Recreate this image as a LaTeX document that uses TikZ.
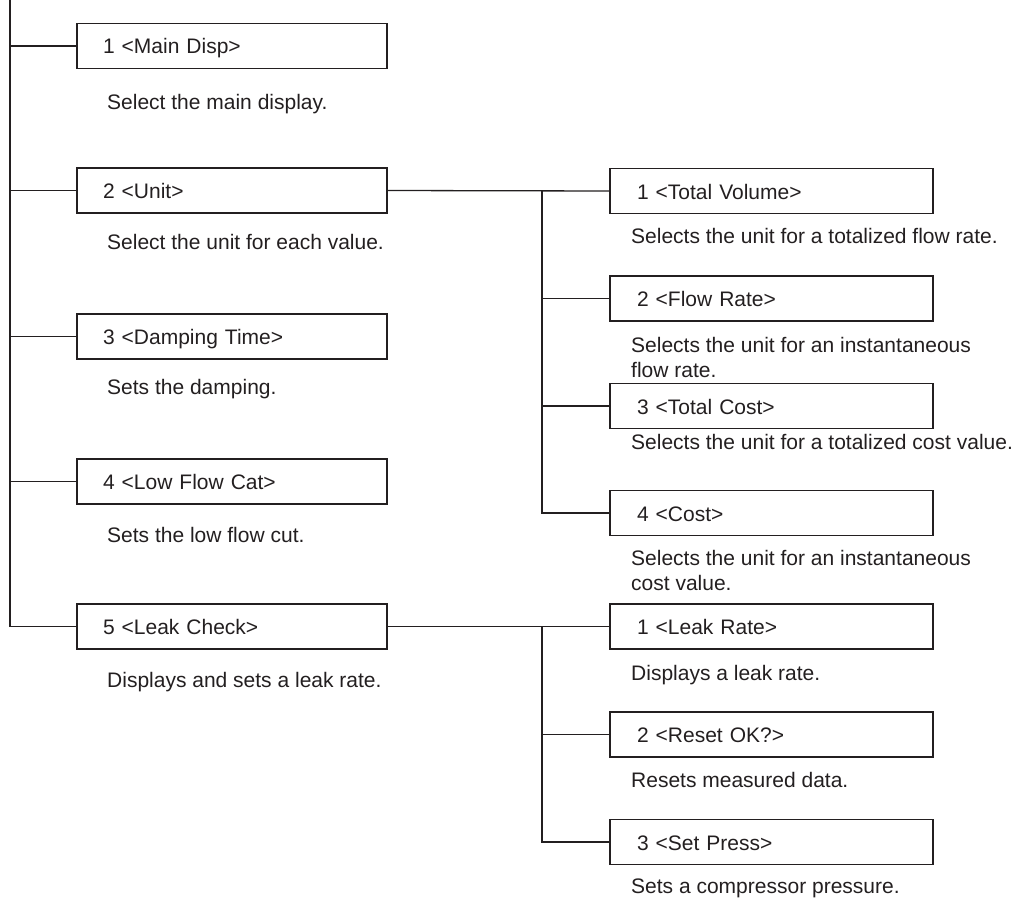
\documentclass[tikz,border=0pt]{standalone}
\usepackage{fontspec}
\setmainfont{Liberation Sans}
\definecolor{ink}{RGB}{35,31,32}
\newcommand\fsz{\fontsize{21}{25}\selectfont}
\tikzset{
  menubox/.style={draw=ink, line width=1.3pt, text=ink, font=\fsz, inner ysep=0pt,
    minimum height=45pt, align=left, text height=16pt, text depth=0pt},
  lbox/.style={menubox, text width=258pt, inner xsep=26pt},
  rbox/.style={menubox, text width=269pt, inner xsep=27pt},
  desc/.style={anchor=base west, inner sep=0pt, font=\fsz, text=ink, align=left},
  wire/.style={draw=ink, line width=1.3pt}
}
\begin{document}
\begin{tikzpicture}[x=1pt,y=-1pt]
\useasboundingbox (0,0) rectangle (1019,899);
% left column
\node[lbox] (b1) at (232,46) {1 <Main Disp>};
\node[lbox] (b2) at (232,190.5) {2 <Unit>};
\node[lbox] (b3) at (232,336.5) {3 <Damping Time>};
\node[lbox] (b4) at (232,481.5) {4 <Low Flow Cat>};
\node[lbox] (b5) at (232,626.5) {5 <Leak Check>};
\node[desc] (d1) at (107,109) {Select the main display.};
\node[desc] (d2) at (107,249) {Select the unit for each value.};
\node[desc] (d3) at (107,394) {Sets the damping.};
\node[desc] (d4) at (107,542) {Sets the low flow cut.};
\node[desc] (d5) at (107,687) {Displays and sets a leak rate.};
% right column: unit
\node[rbox] (s1) at (771.5,191) {1 <Total Volume>};
\node[rbox] (s2) at (771.5,298.5) {2 <Flow Rate>};
\node[rbox] (s3) at (771.5,406) {3 <Total Cost>};
\node[rbox] (s4) at (771.5,513) {4 <Cost>};
\node[desc] (e1) at (631,243) {Selects the unit for a totalized flow rate.};
\node[desc] (e2) at (631,377) {Selects the unit for an instantaneous\\flow rate.};
\node[desc] (e3) at (631,449) {Selects the unit for a totalized cost value.};
\node[desc] (e4) at (631,590) {Selects the unit for an instantaneous\\cost value.};
% right column: leak check
\node[rbox] (l1) at (771.5,626.5) {1 <Leak Rate>};
\node[rbox] (l2) at (771.5,734.5) {2 <Reset OK?>};
\node[rbox] (l3) at (771.5,842) {3 <Set Press>};
\node[desc] (f1) at (631,680) {Displays a leak rate.};
\node[desc] (f2) at (631,787) {Resets measured data.};
\node[desc] (f3) at (631,893) {Sets a compressor pressure.};
% connectors
\coordinate (top) at (10,0);
\coordinate (jx) at (542,0);
\draw[wire] (top) |- (b5.west);
\foreach \b in {b1,b2,b3,b4} \draw[wire] (\b.west) -- (\b.west -| top);
\draw[wire] (b2.east) -- (s1.west);
\draw[wire] (jx |- s1.west) |- (s4.west);
\foreach \b in {s2,s3} \draw[wire] (\b.west) -- (\b.west -| jx);
\draw[wire] (b5.east) -- (l1.west);
\draw[wire] (jx |- l1.west) |- (l3.west);
\draw[wire] (l2.west) -- (l2.west -| jx);
\end{tikzpicture}
\end{document}
